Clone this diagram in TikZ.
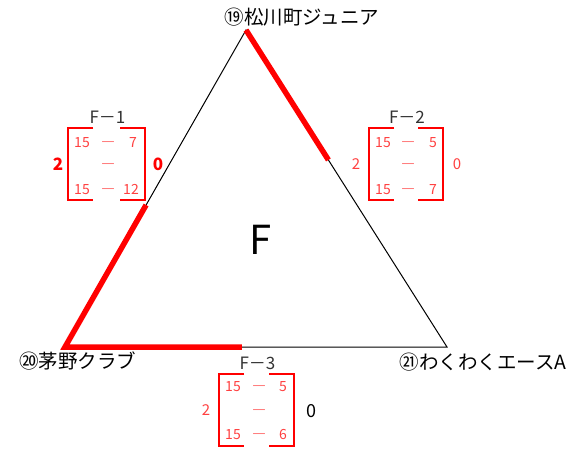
\documentclass[tikz,border=0pt]{standalone}
\usepackage{fontspec}
\setmainfont{Noto Sans CJK JP}
\begin{document}
\begin{tikzpicture}[x=1pt,y=-1pt,
  thin line/.style={black,line width=1pt},
  win/.style={red,line width=5.5pt},
  br/.style={red,line width=2pt},
  team/.style={font=\fontsize{19.5}{20}\selectfont,inner sep=0pt},
  ttl/.style={font=\fontsize{17}{17}\selectfont,inner sep=0pt,text=black!80},
  sc/.style={font=\fontsize{14}{14}\selectfont,inner sep=0pt,text=red!75,text height=10pt,text depth=0pt},
  dsh/.style={sc,font=\fontsize{14}{14}\selectfont\bfseries},
  side/.style={font=\fontsize{15}{15}\selectfont,inner sep=0pt,text=red!75}]
\useasboundingbox (0,0) rectangle (574,451);
% triangle vertices
\coordinate (T) at (246,30);
\coordinate (L) at (65,347);
\coordinate (R) at (447,347);
\draw[thin line] (T) -- (L) -- (R) -- cycle;
\path (T) -- (R) coordinate[pos=0.41] (rE);
\path (T) -- (L) coordinate[pos=0.552] (lE);
\path (L) -- (R) coordinate[pos=0.463] (bE);
\draw[win] (T) -- (rE);
\draw[win,line join=miter] (lE) -- (L) -- (bE);
% team names
\node[team] (n19) at (302,17) {⑲松川町ジュニア};
\node[team] (n20) at (78,361) {⑳茅野クラブ};
\node[team] (n21) at (483,362) {㉑わくわくエースA};
\node[font=\fontsize{40}{40}\selectfont,inner sep=0pt] (F) at (261,240) {F};
% boxes
\foreach \nm/\xl/\xr/\yt/\yb/\tl in {b1/68/145/128/200/F－1, b2/369/443/128/200/F－2, b3/219/294/374/446/F－3}{
  \draw[br] (\xl+25,\yt) -- (\xl,\yt) -- (\xl,\yb) -- (\xl+25,\yb);
  \draw[br] (\xr-25,\yt) -- (\xr,\yt) -- (\xr,\yb) -- (\xr-25,\yb);
  \node[ttl] (\nm t) at ({(\xl+\xr)/2+1},\yt-11) {\tl};
}
% F-1
\node[sc] (a1) at (82,142) {15};
\node[dsh] (a2) at (108,142) {―};
\node[sc] (a3) at (133,142) {7};
\node[dsh] (a4) at (108,164) {―};
\node[sc] (a5) at (82,189) {15};
\node[dsh] (a6) at (108,189) {―};
\node[sc] (a7) at (131,189) {12};
\node[side,font=\fontsize{17}{17}\selectfont\bfseries,text=red] (l1) at (58,164) {2};
\node[side,font=\fontsize{17}{17}\selectfont\bfseries,text=red] (r1) at (158,164) {0};
% F-2
\node[sc] (c1) at (383,142) {15};
\node[dsh] (c2) at (408,142) {―};
\node[sc] (c3) at (433,142) {5};
\node[dsh] (c4) at (408,164) {―};
\node[sc] (c5) at (383,189) {15};
\node[dsh] (c6) at (408,189) {―};
\node[sc] (c7) at (433,189) {7};
\node[side] (l2) at (356,164) {2};
\node[side] (r2) at (457,164) {0};
% F-3
\node[sc] (d1) at (233,386) {15};
\node[dsh] (d2) at (259,386) {―};
\node[sc] (d3) at (283,386) {5};
\node[dsh] (d4) at (259,410) {―};
\node[sc] (d5) at (233,434) {15};
\node[dsh] (d6) at (259,434) {―};
\node[sc] (d7) at (283,434) {6};
\node[side] (l3) at (206,410) {2};
\node[side,font=\fontsize{18}{18}\selectfont,text=black] (r3) at (311,411) {0};
\end{tikzpicture}
\end{document}
